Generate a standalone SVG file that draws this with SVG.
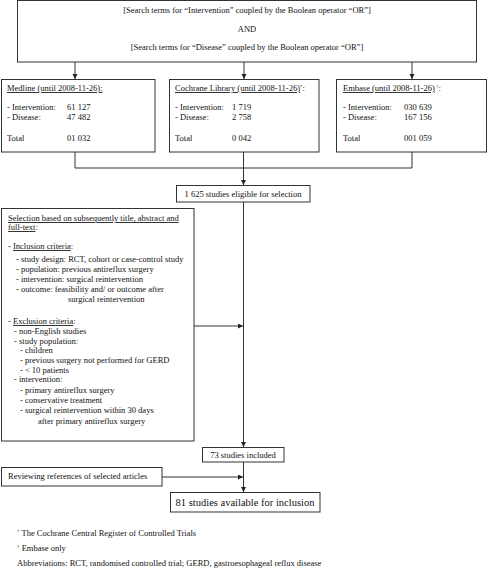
<svg xmlns="http://www.w3.org/2000/svg" width="488" height="568" viewBox="0 0 488 568">
<style>
.box{fill:#fff;stroke:#333;stroke-width:1}
.ln{fill:none;stroke:#333;stroke-width:1}
text{font-family:"Liberation Serif","Times New Roman",serif;font-size:8.5px;fill:#111}
.c{text-anchor:middle}
.u{text-decoration:underline}
.big{font-size:10.5px}
.sup{font-size:5px}
</style>
<defs>
<marker id="ar" markerUnits="userSpaceOnUse" markerWidth="6" markerHeight="6" refX="5" refY="2.5" orient="auto">
<path d="M0,0 L5,2.5 L0,5 z" fill="#222"/>
</marker>
</defs>
<rect width="488" height="568" fill="#fff"/>
<g id="connectors">
<line class="ln" x1="75" y1="62" x2="75" y2="79" marker-end="url(#ar)"/>
<line class="ln" x1="244" y1="62" x2="244" y2="79" marker-end="url(#ar)"/>
<line class="ln" x1="412" y1="62" x2="412" y2="79" marker-end="url(#ar)"/>
<path class="ln" d="M75,152 V168 H412 V152"/>
<line class="ln" x1="243.5" y1="152" x2="243.5" y2="185" marker-end="url(#ar)"/>
<line class="ln" x1="243.5" y1="202" x2="243.5" y2="447" marker-end="url(#ar)"/>
<line class="ln" x1="194" y1="326" x2="243" y2="326" marker-end="url(#ar)"/>
<line class="ln" x1="243.5" y1="462" x2="243.5" y2="492" marker-end="url(#ar)"/>
<line class="ln" x1="162" y1="477" x2="243" y2="477" marker-end="url(#ar)"/>
</g>
<g id="search">
<rect class="box" x="17.5" y="0.5" width="459" height="61.5"/>
<text class="c" x="247" y="13">[Search terms for “Intervention” coupled by the Boolean operator “OR”]</text>
<text class="c" x="247" y="32">AND</text>
<text class="c" x="247" y="50">[Search terms for “Disease” coupled by the Boolean operator “OR”]</text>
</g>
<g id="medline">
<rect class="box" x="1.5" y="79.5" width="153.5" height="72.5"/>
<text x="7" y="91"><tspan class="u">Medline (until 2008-11-26):</tspan></text>
<text x="7" y="110">- Intervention:</text><text x="67" y="110">61 127</text>
<text x="7" y="119.5">- Disease:</text><text x="67" y="119.5">47 482</text>
<text x="7" y="141">Total</text><text x="67" y="141">01 032</text>
</g>
<g id="cochrane">
<rect class="box" x="169.5" y="79.5" width="149.5" height="72.5"/>
<text x="175" y="91"><tspan class="u">Cochrane Library (until 2008-11-26)</tspan><tspan class="sup" dy="-3">*</tspan><tspan dy="3">:</tspan></text>
<text x="175" y="110">- Intervention:</text><text x="232" y="110">1 719</text>
<text x="175" y="119.5">- Disease:</text><text x="232" y="119.5">2 758</text>
<text x="175" y="141">Total</text><text x="232" y="141">0 042</text>
</g>
<g id="embase">
<rect class="box" x="336.5" y="79.5" width="150" height="72.5"/>
<text x="343" y="91"><tspan class="u">Embase (until 2008-11-26)</tspan><tspan class="sup" dy="-3"> †</tspan><tspan dy="3">:</tspan></text>
<text x="343" y="110">- Intervention:</text><text x="404" y="110">030 639</text>
<text x="343" y="119.5">- Disease:</text><text x="404" y="119.5">167 156</text>
<text x="343" y="141">Total</text><text x="404" y="141">001 059</text>
</g>
<g id="eligible">
<rect class="box" x="176.5" y="185.5" width="133.5" height="16.5"/>
<text class="c" x="243" y="197">1 625 studies eligible for selection</text>
</g>
<g id="selection">
<rect class="box" x="1.5" y="208.5" width="192.5" height="232.5"/>
<text x="8" y="221" class="u">Selection based on subsequently title, abstract and</text>
<text x="8" y="230"><tspan class="u">full-text</tspan>:</text>
<text x="8" y="249">- <tspan class="u">Inclusion criteria</tspan>:</text>
<text x="16" y="262">-  study design: RCT, cohort or case-control study</text>
<text x="16" y="272">-  population: previous antireflux surgery</text>
<text x="16" y="282">-  intervention: surgical reintervention</text>
<text x="16" y="292">-  outcome: feasibility and/ or outcome after</text>
<text x="68" y="302">surgical reintervention</text>
<text x="8" y="324">- <tspan class="u">Exclusion criteria</tspan>:</text>
<text x="14" y="334">- non-English studies</text>
<text x="14" y="344">- study population:</text>
<text x="20" y="353">-  children</text>
<text x="20" y="363">-  previous surgery not performed for GERD</text>
<text x="20" y="373">-  &lt; 10 patients</text>
<text x="14" y="382">- intervention:</text>
<text x="20" y="393">-  primary antireflux surgery</text>
<text x="20" y="403">-  conservative treatment</text>
<text x="20" y="413">-  surgical reintervention within 30 days</text>
<text x="38" y="424">after primary antireflux surgery</text>
</g>
<g id="included">
<rect class="box" x="202.5" y="447.5" width="81.5" height="14.5"/>
<text class="c" x="243" y="458">73 studies included</text>
</g>
<g id="reviewing">
<rect class="box" x="1.5" y="467.5" width="160.5" height="18.5"/>
<text x="8" y="479">Reviewing references of selected articles</text>
</g>
<g id="available">
<rect class="box" x="170.5" y="492.5" width="149.5" height="19.5"/>
<text class="c big" x="245" y="506">81 studies available for inclusion</text>
</g>
<g id="footnotes">
<text x="17" y="536"><tspan class="sup" dy="-3">*</tspan><tspan dy="3"> The Cochrane Central Register of Controlled Trials</tspan></text>
<text x="17" y="551"><tspan class="sup" dy="-3">†</tspan><tspan dy="3"> Embase only</tspan></text>
<text x="17" y="566">Abbreviations: RCT, randomised controlled trial; GERD, gastroesophageal reflux disease</text>
</g>
</svg>
